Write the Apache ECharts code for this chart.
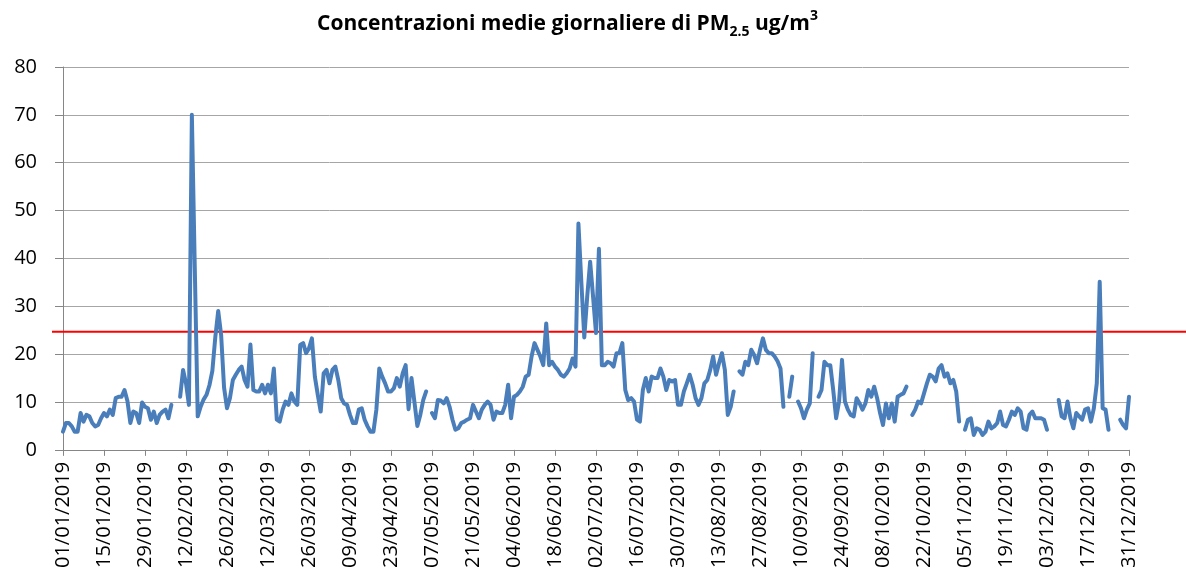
<!DOCTYPE html>
<html>
<head>
<meta charset="utf-8">
<script src="https://cdn.jsdelivr.net/npm/echarts@6/dist/echarts.min.js"></script>
<style>
  html, body { margin: 0; padding: 0; background: #fff; }
  #chart { width: 1186px; height: 571px; }
</style>
</head>
<body>
<div id="chart"></div>
<script>
// concentrazioni medie giornaliere PM2.5 (ug/m3), un array per mese, null = dato mancante
const gen = [3.8, 5.6, 5.6, 4.9, 3.8, 3.8, 7.7, 5.9, 7.3, 7.0, 5.6, 4.9, 5.2, 6.6, 7.7, 7.0, 8.4, 7.3, 10.8, 11.1, 11.1, 12.5, 10.2, 5.6, 8.0, 7.7, 5.6, 9.9, 9.0, 8.7, 6.3];
const feb = [8.0, 5.6, 7.3, 8.0, 8.4, 6.6, 9.4, null, null, 11.1, 16.7, 13.9, 9.4, 70, 38, 7.0, 9.0, 10.5, 11.5, 13.5, 16.5, 23.5, 29, 24, 13, 8.7, 10.8, 14.6];
const mar = [15.7, 16.7, 17.4, 14.6, 13.2, 22, 12.5, 12.2, 12.2, 13.6, 11.8, 13.6, 11.8, 17.0, 6.3, 5.9, 8.4, 10.1, 9.4, 11.8, 10.1, 9.4, 21.9, 22.3, 20.2, 21.2, 23.3, 15.3, 11.5, 8.0, 16.0];
const apr = [16.7, 13.9, 16.7, 17.4, 14.6, 10.8, 9.7, 9.4, 7.3, 5.6, 5.6, 8.4, 8.7, 6.3, 4.9, 3.8, 3.8, 8.4, 17.0, 15.3, 13.9, 12.2, 12.2, 12.9, 15.0, 13.2, 16.0, 17.7, 8.5, 15];
const mag = [10, 5.0, 7.3, 10.4, 12.2, null, 7.7, 6.6, 10.4, 10.3, 9.7, 10.8, 9.0, 6.3, 4.2, 4.5, 5.6, 5.9, 6.3, 6.6, 9.4, 8.0, 6.6, 8.4, 9.4, 10.1, 9.4, 6.3, 8.0, 7.7, 7.7];
const giu = [9.4, 13.6, 6.6, 11.1, 11.5, 12.2, 13.2, 15.3, 15.7, 19.5, 22.3, 20.9, 19.5, 17.7, 26.4, 17.7, 18.4, 17.4, 16.7, 15.7, 15.3, 16.0, 17.0, 19.1, 17.4, 47.3, 35, 23.5, 32, 39.3];
const lug = [32, 24.4, 42, 17.7, 17.7, 18.4, 18.1, 17.4, 20.2, 20.2, 22.3, 12.5, 10.4, 10.8, 10.1, 6.3, 5.9, 12.5, 15.0, 12.2, 15.3, 15.0, 15.0, 17.0, 15.3, 12.5, 14.6, 14.3, 14.6, 9.4, 9.4];
const ago = [12.2, 13.9, 15.7, 13.6, 10.8, 9.4, 10.8, 13.9, 14.6, 16.7, 19.5, 15.7, 18.1, 20.2, 16.7, 7.3, 9.0, 12.2, null, 16.4, 15.7, 18.4, 17.7, 20.9, 19.8, 18.1, 20.9, 23.3, 20.9, 20.2, 20.2];
const set = [19.5, 18.5, 17.0, 9.0, null, 11.1, 15.3, null, 10.1, 8.7, 6.6, 8.4, 9.7, 20.2, null, 11.1, 12.5, 18.4, 17.7, 17.7, 12.5, 6.6, 10.1, 18.8, 10.1, 8.4, 7.3, 7.0, 10.8, 9.7];
const ott = [8.4, 9.7, 12.5, 11.1, 13.2, 10.8, 7.7, 5.2, 9.7, 6.6, 9.7, 5.9, 11.1, 11.5, 11.8, 13.2, null, 7.3, 8.4, 10.1, 9.7, 11.8, 13.9, 15.7, 15.3, 14.3, 17.0, 17.7, 15.3, 16.0, 13.9];
const nov = [14.6, 12.2, 5.9, null, 4.2, 6.3, 6.6, 3.1, 4.5, 4.2, 3.1, 3.8, 5.9, 4.5, 4.9, 5.6, 8.0, 5.2, 4.9, 6.3, 8.0, 7.3, 8.7, 8.0, 4.5, 4.2, 7.3, 8.0, 6.6, 6.6];
const dic = [6.6, 6.3, 4.2, null, null, null, 10.4, 7.0, 6.6, 10.1, 6.6, 4.5, 7.7, 7.0, 6.3, 8.4, 8.7, 5.9, 8.7, 13.9, 35.1, 8.7, 8.4, 4.2, null, null, null, 6.3, 5.2, 4.5, 11.1];

const mesi = [gen, feb, mar, apr, mag, giu, lug, ago, set, ott, nov, dic];
const anno = 2019;
const soglia = 24.7; // linea rossa
const yTicks = { min: 0, max: 80, interval: 10 };

// categorie dd/mm/yyyy
const giorni = [];
mesi.forEach((m, i) => {
  m.forEach((_v, g) => {
    giorni.push(String(g + 1).padStart(2, "0") + "/" + String(i + 1).padStart(2, "0") + "/" + anno);
  });
});
const valori = [].concat(...mesi);

const font = "'Open Sans', sans-serif";
const chart = echarts.init(document.getElementById("chart"), null, { renderer: "canvas" });

chart.setOption({
  animation: false,
  backgroundColor: "#ffffff",
  title: {
    text: "{t|Concentrazioni medie giornaliere di PM}{s|2.5}{t| ug/m}{p|3}",
    left: 312,
    top: 4,
    textStyle: {
      rich: {
        t: { fontFamily: font, fontSize: 21, fontWeight: "bold", color: "#000", lineHeight: 30, verticalAlign: "middle" },
        s: { fontFamily: font, fontSize: 14, fontWeight: "bold", color: "#000", lineHeight: 14, verticalAlign: "bottom" },
        p: { fontFamily: font, fontSize: 14, fontWeight: "bold", color: "#000", lineHeight: 14, verticalAlign: "top" },
      },
    },
  },
  grid: [
    { left: 63, right: 57, top: 67, bottom: 121 },
    { left: 52, right: 0, top: 67, bottom: 121 },
  ],
  xAxis: [
    {
      type: "category",
      gridIndex: 0,
      data: giorni,
      boundaryGap: false,
      axisLine: { lineStyle: { color: "#868686", width: 1 } },
      axisTick: { interval: 13, length: 6, lineStyle: { color: "#868686" } },
      axisLabel: {
        interval: 13,
        rotate: 90,
        margin: 12,
        color: "#000",
        fontFamily: font,
        fontSize: 20,
      },
      splitLine: { show: false },
    },
    { type: "value", gridIndex: 1, min: 0, max: 1, show: false },
  ],
  yAxis: [
    {
      type: "value",
      gridIndex: 0,
      min: yTicks.min,
      max: yTicks.max,
      interval: yTicks.interval,
      axisLine: { show: true, lineStyle: { color: "#868686", width: 1 } },
      axisTick: { show: true, length: 8, lineStyle: { color: "#868686" } },
      axisLabel: { margin: 26, color: "#000", fontFamily: font, fontSize: 20 },
      splitLine: { lineStyle: { color: "#a6a6a6", width: 1 } },
    },
    { type: "value", gridIndex: 1, min: yTicks.min, max: yTicks.max, show: false },
  ],
  series: [
    {
      type: "line",
      name: "PM2.5",
      xAxisIndex: 0,
      yAxisIndex: 0,
      data: valori,
      showSymbol: false,
      connectNulls: false,
      lineStyle: { color: "#4a7ebb", width: 4, join: "round", cap: "round" },
      itemStyle: { color: "#4a7ebb" },
      z: 3,
    },
    {
      type: "line",
      name: "soglia",
      xAxisIndex: 1,
      yAxisIndex: 1,
      data: [[0, soglia], [1, soglia]],
      showSymbol: false,
      silent: true,
      lineStyle: { color: "#ff0000", width: 2 },
      z: 2,
    },
  ],
});
</script>
</body>
</html>
